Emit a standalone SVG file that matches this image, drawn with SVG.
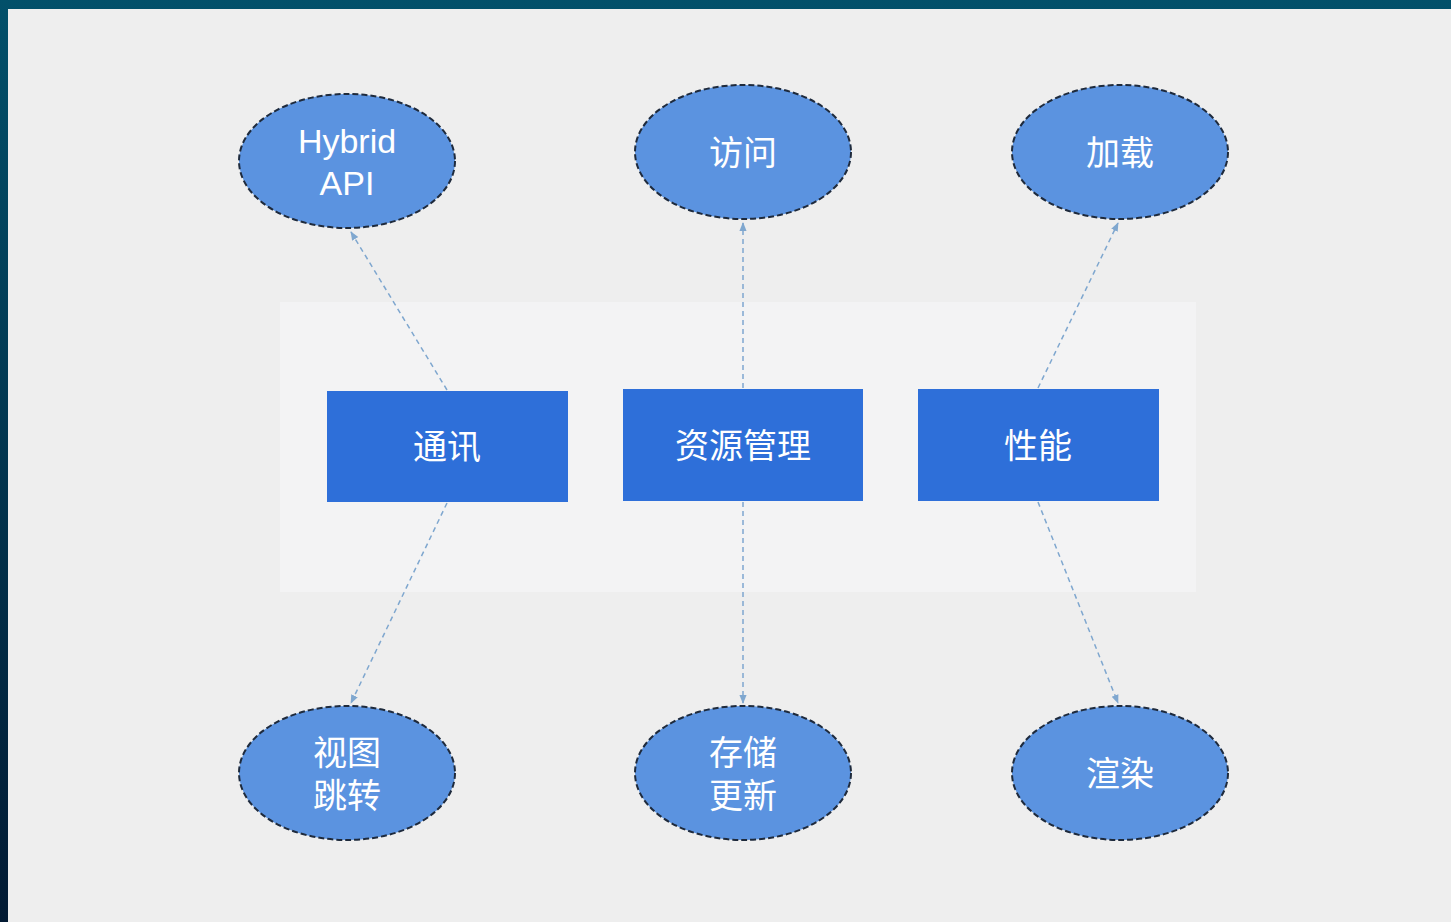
<svg xmlns="http://www.w3.org/2000/svg" width="1451" height="922" viewBox="0 0 1451 922">
<defs>
<linearGradient id="frame" x1="0" y1="0" x2="0" y2="1">
<stop offset="0" stop-color="#02506a"/>
<stop offset="1" stop-color="#021a33"/>
</linearGradient>
<marker id="arr" viewBox="0 0 10 10" refX="9" refY="5" markerWidth="6" markerHeight="6" orient="auto">
<path d="M0,1 L10,5 L0,9 z" fill="#7fa7cf"/>
</marker>
<style>
.ell{fill:#5b93e0;stroke:#1e2a3c;stroke-width:2;stroke-dasharray:6,3}
.box{fill:#2e6fd9}
.t{font-family:"Liberation Sans","Noto Sans CJK SC",sans-serif;fill:#ffffff;text-anchor:middle}
.con{stroke:#7fa7cf;stroke-width:1.5;stroke-dasharray:5,4;fill:none}
</style>
</defs>
<rect width="1451" height="922" fill="url(#frame)"/>
<rect x="8" y="9" width="1443" height="913" fill="#eeeeee"/>
<rect x="280" y="302" width="916" height="290" fill="#f3f3f4"/>
<g id="connectors">
<line class="con" x1="447" y1="390" x2="351" y2="232" marker-end="url(#arr)"/>
<line class="con" x1="447" y1="503" x2="351" y2="703" marker-end="url(#arr)"/>
<line class="con" x1="743" y1="388" x2="743" y2="223" marker-end="url(#arr)"/>
<line class="con" x1="743" y1="502" x2="743" y2="703" marker-end="url(#arr)"/>
<line class="con" x1="1038" y1="388" x2="1118" y2="223" marker-end="url(#arr)"/>
<line class="con" x1="1038" y1="502" x2="1118" y2="703" marker-end="url(#arr)"/>
</g>
<g id="hybrid"><ellipse class="ell" cx="347" cy="161" rx="108" ry="67"/><text class="t" x="347" y="153" font-size="34">Hybrid</text><text class="t" x="347" y="195" font-size="34">API</text></g>
<g id="fangwen"><ellipse class="ell" cx="743" cy="152" rx="108" ry="67"/><text class="t" x="743" y="165" font-size="34">访问</text></g>
<g id="jiazai"><ellipse class="ell" cx="1120" cy="152" rx="108" ry="67"/><text class="t" x="1120" y="165" font-size="34">加载</text></g>
<g id="tongxun"><rect class="box" x="327" y="391" width="241" height="111"/><text class="t" x="447" y="459" font-size="34">通讯</text></g>
<g id="ziyuan"><rect class="box" x="623" y="389" width="240" height="112"/><text class="t" x="743" y="458" font-size="34">资源管理</text></g>
<g id="xingneng"><rect class="box" x="918" y="389" width="241" height="112"/><text class="t" x="1038" y="458" font-size="34">性能</text></g>
<g id="shitu"><ellipse class="ell" cx="347" cy="773" rx="108" ry="67"/><text class="t" x="347" y="765" font-size="34">视图</text><text class="t" x="347" y="808" font-size="34">跳转</text></g>
<g id="cunchu"><ellipse class="ell" cx="743" cy="773" rx="108" ry="67"/><text class="t" x="743" y="765" font-size="34">存储</text><text class="t" x="743" y="808" font-size="34">更新</text></g>
<g id="xuanran"><ellipse class="ell" cx="1120" cy="773" rx="108" ry="67"/><text class="t" x="1120" y="786" font-size="34">渲染</text></g>
</svg>
